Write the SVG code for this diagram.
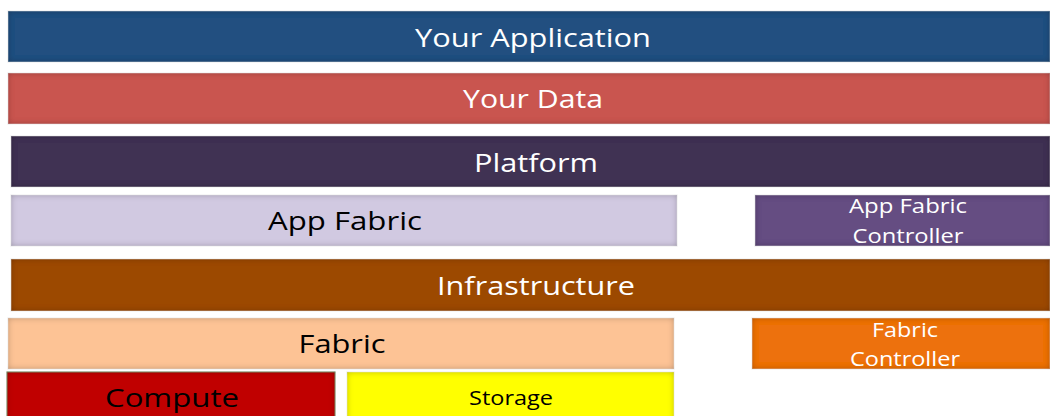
<svg xmlns="http://www.w3.org/2000/svg" width="1050" height="416" viewBox="0 0 1050 416">
<defs>
<filter id="inner" x="-5%" y="-30%" width="110%" height="160%">
 <feFlood flood-color="#000" flood-opacity="0.55" result="f"/>
 <feComposite in="f" in2="SourceAlpha" operator="out" result="outside"/>
 <feGaussianBlur in="outside" stdDeviation="3" result="b"/>
 <feComposite in="b" in2="SourceAlpha" operator="in" result="shadow"/>
 <feMerge><feMergeNode in="SourceGraphic"/><feMergeNode in="shadow"/></feMerge>
</filter>
<style>
 rect.bar { filter: url(#inner); stroke: #ffffff; stroke-opacity: 0.5; stroke-width: 1; }
 text { font-family: "Open Sans", "Noto Sans", "Liberation Sans", sans-serif; text-anchor: middle; }
 .w { fill: #ffffff; }
 .k { fill: #000000; }
 .big { font-size: 26px; }
 .mid { font-size: 25px; }
 .sm { font-size: 20px; }
</style>
</defs>
<g id="your-application">
 <rect class="bar" x="8" y="11" width="1042" height="51" fill="#224f80"/>
 <text class="w big" x="533" y="47" textLength="236" lengthAdjust="spacingAndGlyphs">Your Application</text>
</g>
<g id="your-data">
 <rect class="bar" x="8" y="73" width="1042" height="51" fill="#c95450"/>
 <text class="w mid" x="533" y="108" textLength="140" lengthAdjust="spacingAndGlyphs">Your Data</text>
</g>
<g id="platform">
 <rect class="bar" x="11" y="136" width="1039" height="51" fill="#413253"/>
 <text class="w mid" x="536" y="172" textLength="124" lengthAdjust="spacingAndGlyphs">Platform</text>
</g>
<g id="app-fabric">
 <rect class="bar" x="11" y="195" width="666" height="51" fill="#d1c9e1"/>
 <text class="k mid" x="345" y="230" textLength="154" lengthAdjust="spacingAndGlyphs">App Fabric</text>
</g>
<g id="app-fabric-controller">
 <rect class="bar" x="755" y="195" width="295" height="51" fill="#654e82"/>
 <text class="w sm" x="908" y="213" textLength="118" lengthAdjust="spacingAndGlyphs">App Fabric</text>
 <text class="w sm" x="908" y="243" textLength="111" lengthAdjust="spacingAndGlyphs">Controller</text>
</g>
<g id="infrastructure">
 <rect class="bar" x="11" y="259" width="1039" height="52" fill="#9c4a06"/>
 <text class="w mid" x="536" y="295" textLength="198" lengthAdjust="spacingAndGlyphs">Infrastructure</text>
</g>
<g id="fabric">
 <rect class="bar" x="8" y="318" width="666" height="51" fill="#fdc395"/>
 <text class="k mid" x="342" y="353" textLength="87" lengthAdjust="spacingAndGlyphs">Fabric</text>
</g>
<g id="fabric-controller">
 <rect class="bar" x="752" y="318" width="298" height="51" fill="#ed710d"/>
 <text class="w sm" x="905" y="337" textLength="66" lengthAdjust="spacingAndGlyphs">Fabric</text>
 <text class="w sm" x="905" y="366" textLength="110" lengthAdjust="spacingAndGlyphs">Controller</text>
</g>
<g id="compute">
 <rect class="bar" x="7" y="372" width="328" height="50" fill="#c00000" style="stroke:#8a9a70;stroke-opacity:1"/>
 <text class="k big" x="172" y="407" textLength="134" lengthAdjust="spacingAndGlyphs">Compute</text>
</g>
<g id="storage">
 <rect class="bar" x="347" y="372" width="327" height="50" fill="#ffff00"/>
 <text class="k sm" x="511" y="405" textLength="84" lengthAdjust="spacingAndGlyphs">Storage</text>
</g>
<g id="connectors"></g>
</svg>
